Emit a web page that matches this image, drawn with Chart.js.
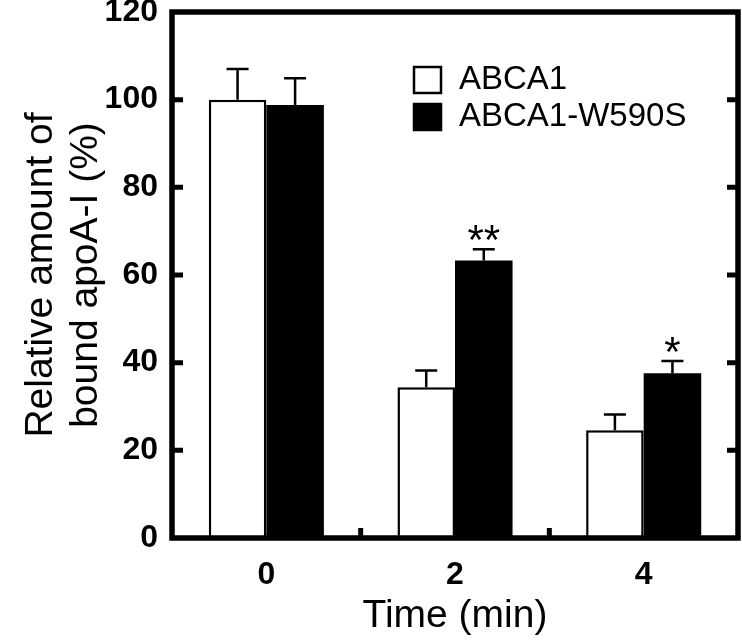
<!DOCTYPE html>
<html>
<head>
<meta charset="utf-8">
<script src="https://cdn.jsdelivr.net/npm/chart.js@4.4.1/dist/chart.umd.min.js"></script>
<style>
  html, body { margin: 0; padding: 0; background: #fff; }
  #wrap { width: 742px; height: 640px; }
</style>
</head>
<body>
<div id="wrap"><canvas id="chart" width="742" height="640"></canvas></div>
<script>
// data
const timeLabels = ["0", "2", "4"];
const wildValues = [100, 34.4, 24.6];
const wildErrors = [7, 3.8, 3.6];
const mutantValues = [98.8, 63.3, 37.6];
const mutantErrors = [6.1, 2.6, 2.8];
const mutantMarks = ["", "**", "*"];
const yTicks = [0, 20, 40, 60, 80, 100, 120];

const FONT = "Arial, 'Liberation Sans', sans-serif";

// 誤差棒 + 有意差
const errorBarPlugin = {
    id: "errorBars",
    afterDatasetsDraw(chart) {
        const { ctx, scales } = chart;
        const errs = [wildErrors, mutantErrors];
        ctx.save();
        ctx.strokeStyle = "#000";
        ctx.lineWidth = 2.5;
        chart.data.datasets.forEach((ds, i) => {
            const meta = chart.getDatasetMeta(i);
            meta.data.forEach((bar, j) => {
                const top = scales.y.getPixelForValue(ds.data[j]);
                const yErr = scales.y.getPixelForValue(ds.data[j] + errs[i][j]);
                ctx.beginPath();
                ctx.moveTo(bar.x, top);
                ctx.lineTo(bar.x, yErr);
                ctx.moveTo(bar.x - 11, yErr);
                ctx.lineTo(bar.x + 11, yErr);
                ctx.stroke();
                if (i === 1 && mutantMarks[j]) {
                    // アスタリスク
                    ctx.fillStyle = "#000";
                    ctx.font = "42px " + FONT;
                    ctx.textAlign = "center";
                    ctx.textBaseline = "alphabetic";
                    ctx.fillText(mutantMarks[j], bar.x, yErr + 5);
                }
            });
        });
        ctx.restore();
    }
};

// 枠線と内向き目盛り
const framePlugin = {
    id: "frame",
    afterDraw(chart) {
        const { ctx, chartArea, scales } = chart;
        const { left, right, top, bottom } = chartArea;
        ctx.save();
        ctx.strokeStyle = "#000";
        ctx.lineWidth = 5.5;
        ctx.strokeRect(left, top, right - left, bottom - top);

        ctx.lineWidth = 5;
        ctx.beginPath();
        yTicks.forEach(v => {
            if (v === 0 || v === 120) return;
            const y = scales.y.getPixelForValue(v);
            ctx.moveTo(left, y);
            ctx.lineTo(left + 11, y);
            ctx.moveTo(right, y);
            ctx.lineTo(right - 11, y);
        });
        // カテゴリ境界
        for (let k = 0; k < timeLabels.length - 1; k++) {
            const x = (scales.x.getPixelForValue(k) + scales.x.getPixelForValue(k + 1)) / 2;
            ctx.moveTo(x, bottom);
            ctx.lineTo(x, bottom - 10);
        }
        ctx.stroke();

        // 凡例
        const items = chart.data.datasets;
        ctx.font = "33px " + FONT;
        ctx.textBaseline = "middle";
        ctx.textAlign = "left";
        items.forEach((ds, i) => {
            const y = 80 + i * 37;
            ctx.fillStyle = ds.backgroundColor;
            ctx.fillRect(414, y - 13, 27, 26);
            ctx.lineWidth = 2.5;
            ctx.strokeStyle = "#000";
            ctx.strokeRect(414, y - 13, 27, 26);
            ctx.fillStyle = "#000";
            ctx.fillText(ds.label, 459, y);
        });
        ctx.restore();
    }
};

const chart = new Chart(document.getElementById("chart"), {
    type: "bar",
    data: {
        labels: timeLabels,
        datasets: [
            {
                label: "ABCA1",
                data: wildValues,
                backgroundColor: "#ffffff",
                borderColor: "#000000",
                borderWidth: 2.5,
                categoryPercentage: 0.61,
                barPercentage: 1.0
            },
            {
                label: "ABCA1-W590S",
                data: mutantValues,
                backgroundColor: "#000000",
                borderColor: "#000000",
                borderWidth: 0,
                categoryPercentage: 0.61,
                barPercentage: 1.0
            }
        ]
    },
    options: {
        responsive: false,
        animation: false,
        layout: {
            padding: { top: 12, right: 4, left: 0, bottom: 0 }
        },
        scales: {
            y: {
                min: 0,
                max: 120,
                ticks: {
                    stepSize: 20,
                    color: "#000",
                    padding: 14,
                    font: { family: FONT, size: 32, weight: "bold" }
                },
                grid: { display: false, drawTicks: false },
                border: { display: false },
                title: {
                    display: true,
                    text: ["Relative amount of", "bound apoA-I (%)"],
                    color: "#000",
                    font: { family: FONT, size: 39, lineHeight: 1.15 },
                    padding: { top: 19, bottom: 0 }
                },
                afterFit(scale) {
                    scale.width = 172;
                    scale.paddingTop = 0;
                    scale.paddingBottom = 0;
                }
            },
            x: {
                ticks: {
                    color: "#000",
                    padding: 18,
                    font: { family: FONT, size: 32, weight: "bold" }
                },
                grid: { display: false, drawTicks: false },
                border: { display: false },
                title: {
                    display: true,
                    text: "Time (min)",
                    color: "#000",
                    font: { family: FONT, size: 39 },
                    padding: { top: 0, bottom: 0 }
                },
                afterFit(scale) {
                    scale.height = 102;
                    scale.paddingLeft = 0;
                    scale.paddingRight = 0;
                }
            }
        },
        plugins: {
            legend: { display: false },
            tooltip: { enabled: false }
        }
    },
    plugins: [errorBarPlugin, framePlugin]
});
</script>
</body>
</html>
